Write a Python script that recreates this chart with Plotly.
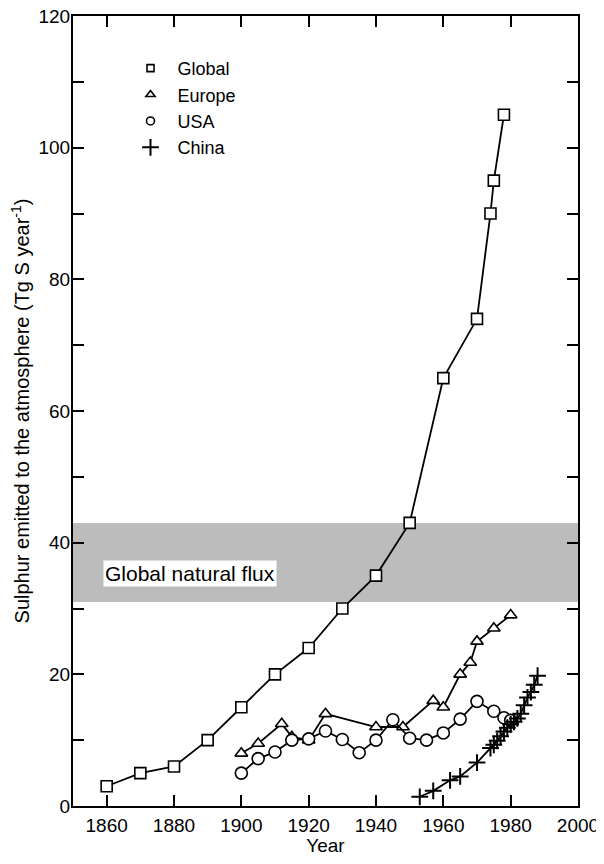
import plotly.graph_objects as go

# ---- data ----
global_years = [1860, 1870, 1880, 1890, 1900, 1910, 1920, 1930, 1940, 1950, 1960, 1970, 1974, 1975, 1978]
global_vals = [3, 5, 6, 10, 15, 20, 24, 30, 35, 43, 65, 74, 90, 95, 105]

europe_years = [1900, 1905, 1912, 1915, 1920, 1925, 1940, 1948, 1957, 1960, 1965, 1968, 1970, 1975, 1980]
europe_vals = [8, 9.5, 12.5, 10.5, 10, 14, 12, 12, 16, 15, 20, 21.8, 25, 27, 29]

usa_years = [1900, 1905, 1910, 1915, 1920, 1925, 1930, 1935, 1940, 1945, 1950, 1955, 1960, 1965, 1970, 1975, 1978, 1980]
usa_vals = [5, 7.2, 8.2, 10, 10.2, 11.4, 10.1, 8.1, 10, 13.1, 10.3, 10, 11.1, 13.2, 15.9, 14.4, 13.4, 13]

china_years = [1953, 1957, 1962, 1965, 1970, 1974, 1975, 1976, 1977, 1978, 1979, 1980, 1981, 1982, 1983,
               1984, 1985, 1986, 1987, 1988]
china_vals = [1.4, 2.3, 3.9, 4.5, 6.6, 8.8, 9.3, 9.9, 10.6, 11.3, 11.9, 12.4, 12.8, 13.3, 14.0,
              15.3, 16.5, 17.3, 18.4, 19.8]

flux_low, flux_high = 31, 43
flux_label = "Global natural flux"

x_ticks = [1860, 1880, 1900, 1920, 1940, 1960, 1980, 2000]
y_ticks = list(range(0, 121, 10))
y_ticktext = [str(v) if v % 20 == 0 else " " for v in y_ticks]

FONT = "Liberation Sans, Arial, Helvetica, sans-serif"
BLACK = "black"

fig = go.Figure()

series = [
    ("Global", global_years, global_vals, "square", 11),
    ("Europe", europe_years, europe_vals, "triangle-up", 11),
    ("USA", usa_years, usa_vals, "circle", 12),
]
for name, xs, ys, sym, sz in series:
    fig.add_trace(go.Scatter(
        x=xs, y=ys, mode="lines+markers", name=name, showlegend=False,
        line=dict(color=BLACK, width=1.8),
        marker=dict(symbol=sym, size=sz, color="white", line=dict(color=BLACK, width=1.6)),
    ))
fig.add_trace(go.Scatter(
    x=china_years, y=china_vals, mode="lines+markers", name="China", showlegend=False,
    line=dict(color=BLACK, width=1.8),
    marker=dict(symbol="cross-thin", size=12, color=BLACK, line=dict(color=BLACK, width=2)),
))

# legend-only entries (markers without line, like the reference)
legend_items = [("Global", "square", 7), ("Europe", "triangle-up", 8), ("USA", "circle", 8), ("China", "cross-thin", 12)]
for name, sym, sz in legend_items:
    fig.add_trace(go.Scatter(
        x=[None], y=[None], mode="markers", name=name,
        marker=dict(symbol=sym, size=sz, color="white" if sym != "cross-thin" else BLACK,
                    line=dict(color=BLACK, width=1.6 if sym != "cross-thin" else 2)),
    ))

fig.add_shape(type="rect", xref="paper", yref="y", x0=0, x1=1, y0=flux_low, y1=flux_high,
              fillcolor="#bcbcbc", line=dict(width=0), layer="below")

fig.add_annotation(x=1859, y=35.3, xref="x", yref="y", text=flux_label, showarrow=False,
                   xanchor="left", yanchor="middle", bgcolor="white", borderpad=1,
                   font=dict(family=FONT, size=21, color=BLACK))

axis_common = dict(showline=True, linecolor=BLACK, linewidth=2, mirror="allticks",
                   ticks="inside", ticklen=11, tickwidth=1.5, tickcolor=BLACK,
                   showgrid=False, zeroline=False, automargin=False,
                   ticklabeloverflow="allow",
                   tickfont=dict(family=FONT, size=19, color=BLACK))

fig.update_xaxes(range=[1850, 2000], tickvals=x_ticks, ticktext=[str(v) for v in x_ticks],
                 title=dict(text="Year", font=dict(family=FONT, size=19, color=BLACK), standoff=2),
                 ticklabelstandoff=1, **axis_common)
fig.update_yaxes(range=[0, 120], tickvals=y_ticks, ticktext=y_ticktext,
                 title=dict(text="Sulphur emitted to the atmosphere (Tg S year<sup>-1</sup>)",
                            font=dict(family=FONT, size=20, color=BLACK), standoff=9),
                 ticklabelstandoff=-3, **axis_common)

# the page body has an 8px margin, so the figure is made smaller and its margins shifted
fig.update_layout(
    width=592, height=848,
    margin=dict(l=65, r=22, t=8, b=50, autoexpand=False),
    paper_bgcolor="white", plot_bgcolor="white",
    font=dict(family=FONT, color=BLACK),
    legend=dict(x=0.1, y=0.957, xanchor="left", yanchor="top",
                bgcolor="rgba(0,0,0,0)", font=dict(family=FONT, size=18, color=BLACK),
                itemwidth=44, tracegroupgap=0),
)

fig.write_html("out.html")
